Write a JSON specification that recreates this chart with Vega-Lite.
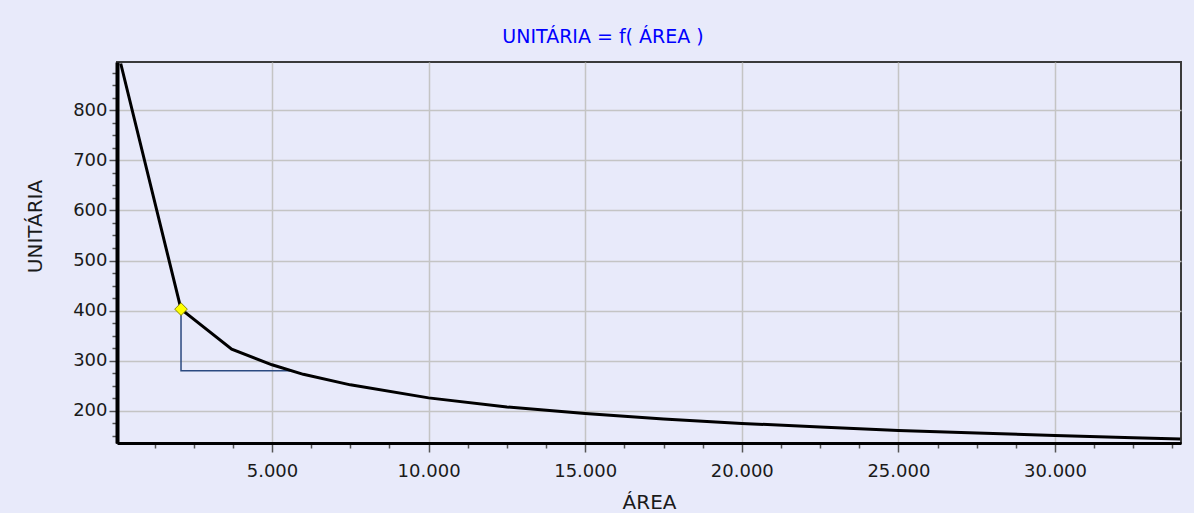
{
  "$schema": "https://vega.github.io/schema/vega-lite/v6.json",
  "width": 1064,
  "height": 381,
  "autosize": {"type": "none"},
  "padding": {"left": 117, "top": 62, "right": 13, "bottom": 70},
  "background": "#E8EAFA",
  "config": {
    "view": {"stroke": "#3A3A3A", "strokeWidth": 2, "fill": "#E8EAFA"},
    "font": "DejaVu Sans"
  },
  "title": {
    "text": "UNITÁRIA = f( ÁREA )",
    "color": "#0000FF",
    "fontSize": 19,
    "fontWeight": "normal",
    "font": "DejaVu Sans",
    "frame": "bounds",
    "anchor": "middle",
    "offset": 15
  },
  "datasets": {
    "curve": [
      {"area": 170, "unit": 893},
      {"area": 2095, "unit": 403},
      {"area": 3713, "unit": 323},
      {"area": 5000, "unit": 292},
      {"area": 6000, "unit": 273},
      {"area": 7500, "unit": 252},
      {"area": 10000, "unit": 226},
      {"area": 12500, "unit": 208},
      {"area": 15000, "unit": 195},
      {"area": 17500, "unit": 184},
      {"area": 20000, "unit": 175},
      {"area": 22500, "unit": 168},
      {"area": 25000, "unit": 161},
      {"area": 27500, "unit": 156},
      {"area": 30000, "unit": 151},
      {"area": 32500, "unit": 146.5},
      {"area": 34000, "unit": 144}
    ],
    "guide": [
      {"area": 2095, "unit": 403, "ord": 1},
      {"area": 2095, "unit": 280, "ord": 2},
      {"area": 5575, "unit": 280, "ord": 3}
    ],
    "point": [
      {"area": 2095, "unit": 403}
    ]
  },
  "layer": [
    {
      "data": {"name": "guide"},
      "mark": {"type": "line", "color": "#2B4A80", "strokeWidth": 1.5, "clip": true},
      "encoding": {
        "x": {
          "field": "area",
          "type": "quantitative",
          "scale": {"domain": [51, 34023], "nice": false, "zero": false},
          "axis": {
            "values": [1250, 2500, 3750, 5000, 6250, 7500, 8750, 10000, 11250, 12500, 13750, 15000, 16250, 17500, 18750, 20000, 21250, 22500, 23750, 25000, 26250, 27500, 28750, 30000, 31250, 32500, 33750],
            "tickCount": 200,
            "labelExpr": "datum.value % 5000 === 0 ? replace(format(datum.value, ','), ',', '.') : ''",
            "grid": true,
            "gridColor": "#C4C4C4",
            "gridWidth": 1.5,
            "gridOpacity": {"condition": {"test": "datum.value % 5000 === 0", "value": 1}, "value": 0},
            "tickSize": {"condition": {"test": "datum.value % 5000 === 0", "value": 9}, "value": 5},
            "tickColor": "#555555",
            "tickWidth": 1.5,
            "domainColor": "#000000",
            "domainWidth": 3,
            "labelFontSize": 18,
            "labelColor": "#1A1A1A",
            "labelPadding": 10,
            "labelFlush": false,
            "labelOverlap": false,
            "title": "ÁREA",
            "titleFontSize": 20,
            "titleFontWeight": "normal",
            "titleColor": "#1A1A1A",
            "titlePadding": 12
          }
        },
        "y": {
          "field": "unit",
          "type": "quantitative",
          "scale": {"domain": [136, 896], "nice": false, "zero": false},
          "axis": {
            "values": [150, 175, 200, 225, 250, 275, 300, 325, 350, 375, 400, 425, 450, 475, 500, 525, 550, 575, 600, 625, 650, 675, 700, 725, 750, 775, 800, 825, 850, 875],
            "tickCount": 200,
            "labelExpr": "datum.value % 100 === 0 ? format(datum.value, 'd') : ''",
            "grid": true,
            "gridColor": "#C4C4C4",
            "gridWidth": 1.5,
            "gridOpacity": {"condition": {"test": "datum.value % 100 === 0", "value": 1}, "value": 0},
            "tickSize": {"condition": {"test": "datum.value % 100 === 0", "value": 8}, "value": 5},
            "tickColor": "#555555",
            "tickWidth": 1.5,
            "domainColor": "#000000",
            "domainWidth": 4,
            "labelFontSize": 18,
            "labelColor": "#1A1A1A",
            "labelPadding": 2,
            "labelFlush": false,
            "labelOverlap": false,
            "title": "UNITÁRIA",
            "titleFontSize": 20,
            "titleFontWeight": "normal",
            "titleColor": "#1A1A1A",
            "titleX": -72,
            "titleY": 164
          }
        },
        "order": {"field": "ord", "type": "quantitative"}
      }
    },
    {
      "data": {"name": "curve"},
      "mark": {"type": "line", "color": "#000000", "strokeWidth": 3, "clip": true},
      "encoding": {
        "x": {"field": "area", "type": "quantitative"},
        "y": {"field": "unit", "type": "quantitative"}
      }
    },
    {
      "data": {"name": "point"},
      "mark": {"type": "point", "shape": "diamond", "filled": true, "fill": "#FFFF00", "stroke": "#8A8A00", "strokeWidth": 1, "size": 160, "opacity": 1},
      "encoding": {
        "x": {"field": "area", "type": "quantitative"},
        "y": {"field": "unit", "type": "quantitative"}
      }
    }
  ]
}
